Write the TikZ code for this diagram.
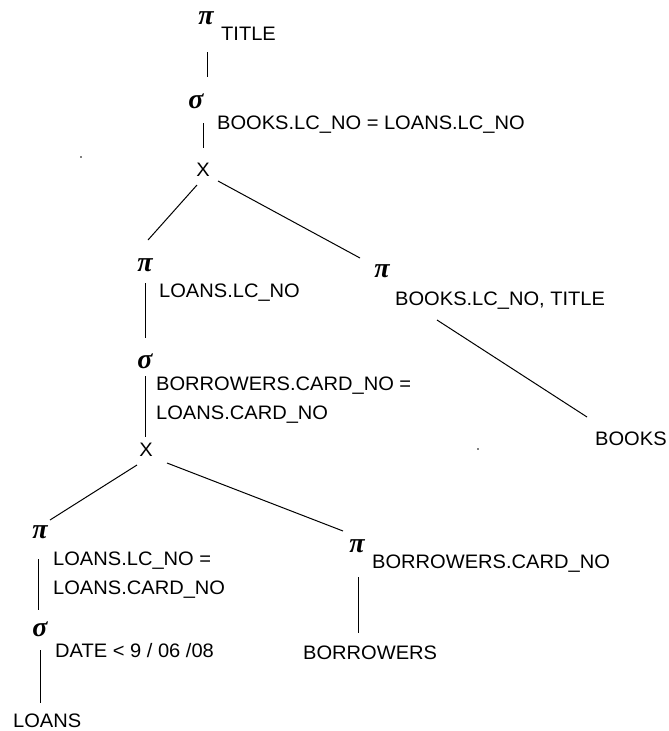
\documentclass[tikz,border=0pt]{standalone}
\usepackage{fontspec}
\setmainfont{Liberation Sans}[FakeStretch=1.03]
\newfontfamily\opfont{Liberation Serif}
\usetikzlibrary{calc}

\begin{document}
\begin{tikzpicture}[x=1pt,y=-1pt,
  op/.style={inner sep=0pt, font=\opfont\bfseries\itshape\fontsize{28}{28}\selectfont},
  lbl/.style={inner sep=0pt, anchor=west, text height=14pt, text depth=0pt,
              font=\fontsize{19.5}{29}\selectfont},
  mlbl/.style={inner sep=0pt, anchor=north west, align=left,
               font=\fontsize{19.5}{29}\selectfont},
  link/.style={line width=1pt}]
\useasboundingbox[fill=white] (0,0) rectangle (669,731);

% root: projection on TITLE, selection, product
\node[op] (p1) at (206,18) {π};
\node[lbl] (t1) at (221,33) {TITLE};
\node[op] (s1) at (196,101) {σ};
\node[lbl] (c1) at (217,122) {BOOKS.LC\_NO = LOANS.LC\_NO};
\node[lbl, anchor=center] (x1) at (203,169) {X};

% left branch of the upper product
\node[op] (p2) at (145,265) {π};
\node[lbl] (c2) at (159,290) {LOANS.LC\_NO};
\node[op] (s2) at (145,361) {σ};
\node[mlbl] (c3) at (156,377) {BORROWERS.CARD\_NO =\\LOANS.CARD\_NO};
\node[lbl, anchor=center] (x2) at (146,449) {X};

% right branch of the upper product
\node[op] (p5) at (382,271) {π};
\node[lbl] (c7) at (395,298) {BOOKS.LC\_NO, TITLE};
\node[lbl] (r3) at (595,438) {BOOKS};

% lower product: LOANS side
\node[op] (p3) at (40,532) {π};
\node[mlbl] (c4) at (53,552) {LOANS.LC\_NO =\\LOANS.CARD\_NO};
\node[op] (s3) at (40,629) {σ};
\node[lbl] (c5) at (55,650) {DATE < 9 / 06 /08};
\node[lbl] (r1) at (13,720) {LOANS};

% lower product: BORROWERS side
\node[op] (p4) at (357,546) {π};
\node[lbl] (c6) at (372,561) {BORROWERS.CARD\_NO};
\node[lbl] (r2) at (303,652) {BORROWERS};

% stray marks
\fill (81,157) circle (0.9);
\fill (478,449) circle (0.9);

% edges
\draw[link] ($(p1)+(1,34)$) -- ($(s1)+(11,-24)$);
\draw[link] ($(s1)+(7,22)$) -- ($(x1)+(0,-21)$);
\draw[link] ($(x1)+(-6,16)$) -- ($(p2)+(3,-25)$);
\draw[link] ($(x1)+(15,12)$) -- ($(p5)+(-22,-13)$);
\draw[link] ($(p2)+(0,18)$) -- ($(s2)+(0,-23)$);
\draw[link] ($(s2)+(0,15)$) -- ($(x2)+(-1,-12)$);
\draw[link] ($(x2)+(-9,16)$) -- ($(p3)+(10,-12)$);
\draw[link] ($(x2)+(21,14)$) -- ($(p4)+(-14,-15)$);
\draw[link] ($(p3)+(-2,27)$) -- ($(s3)+(-2,-19)$);
\draw[link] ($(s3)+(0,21)$) -- ($(r1.west)+(27,-17)$);
\draw[link] ($(p4)+(1,31)$) -- ($(r2.west)+(55,-19)$);
\draw[link] ($(c7.west)+(42,22)$) -- ($(r3.west)+(-8,-21)$);
\end{tikzpicture}
\end{document}
